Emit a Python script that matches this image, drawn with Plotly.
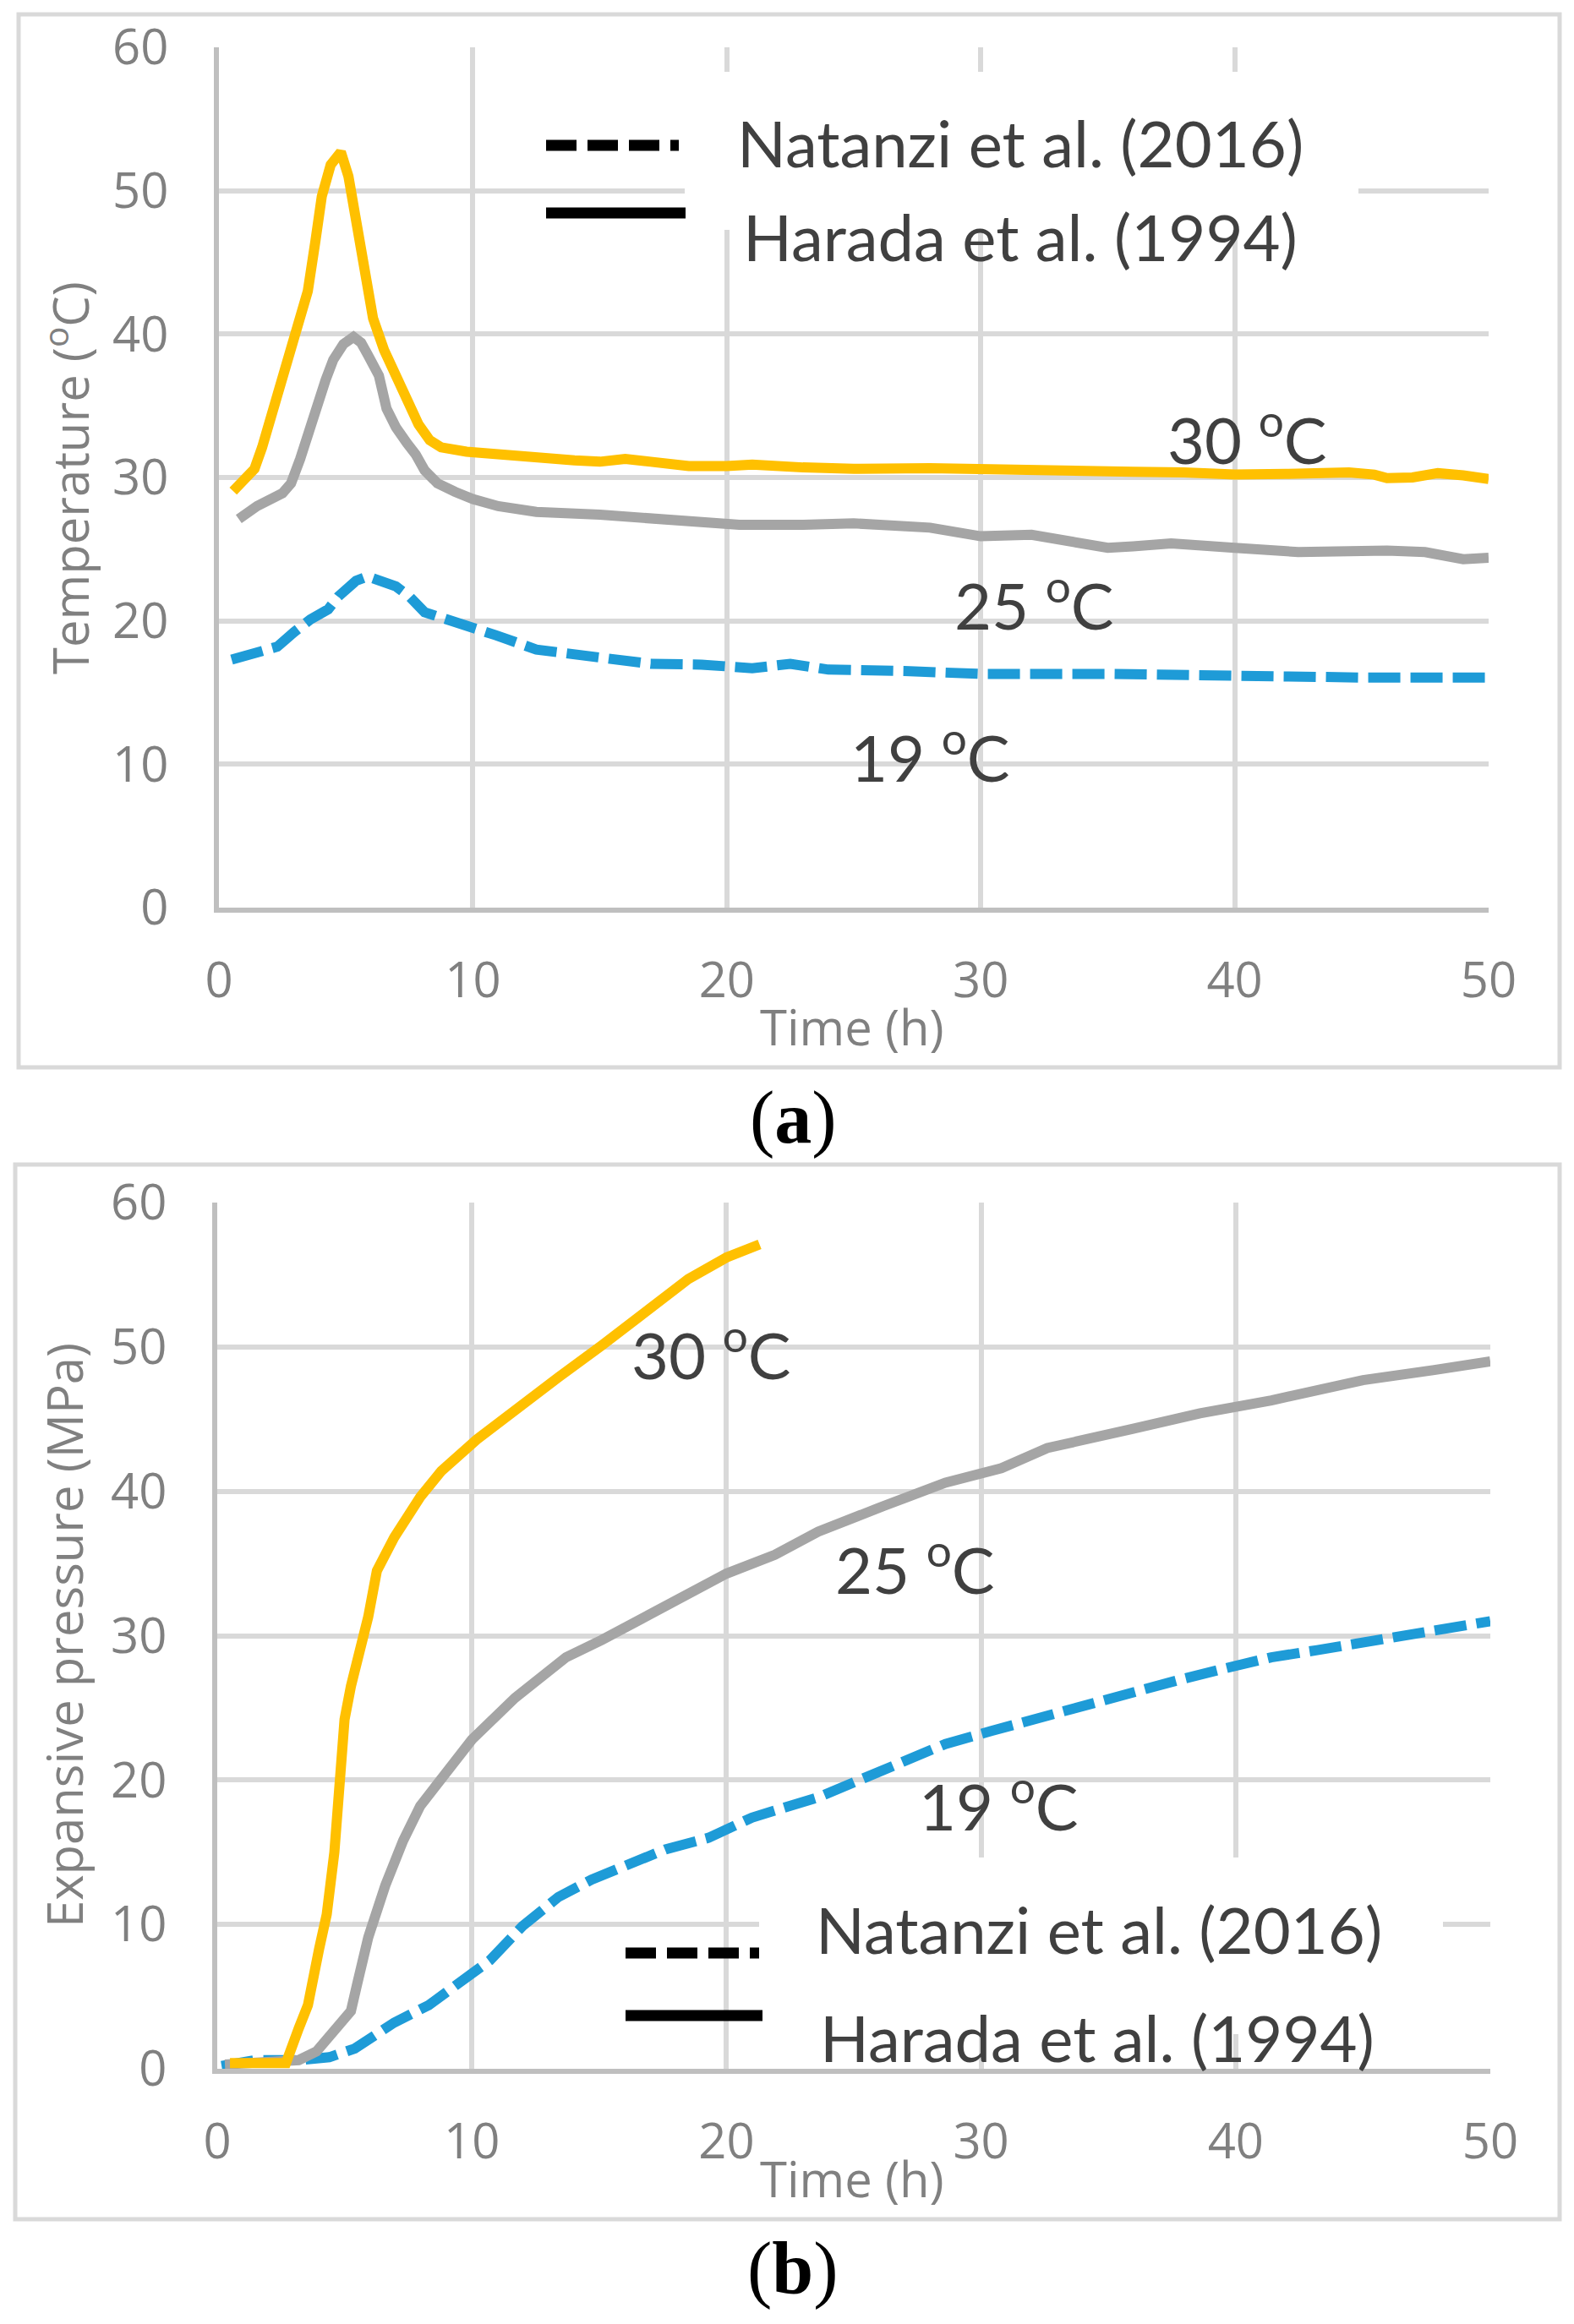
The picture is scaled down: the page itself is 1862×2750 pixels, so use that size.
import plotly.graph_objects as go

# ---- (a) temperature vs time ----
t_a_30 = [0.56, 1.4, 1.7, 2.3, 2.7, 3.1, 3.5, 3.8, 4.05, 4.4, 4.8, 5.1, 5.4, 5.65, 5.85,
          6.07, 6.5, 6.97, 7.5, 7.86, 8.3, 8.75, 9.75, 11, 12, 13, 14, 15, 16, 17, 18.5,
          20, 21, 23, 25, 28, 30, 32, 34, 36, 38, 40, 42, 43, 44.5, 45.5, 46, 47, 48, 49, 50]
temp_30 = [29.05, 30.6, 32.1, 35.7, 38.4, 40.4, 43.0, 46.5, 49.6, 51.8, 52.7, 51.0, 48.0, 45.0, 42.5,
           41.1, 38.9, 37.1, 35.0, 33.7, 32.6, 32.1, 31.8, 31.6, 31.4, 31.3, 31.2, 31.1, 31.3, 31.1, 30.8,
           30.8, 30.9, 30.7, 30.6, 30.65, 30.55, 30.45, 30.4, 30.4, 30.35, 30.2, 30.25, 30.3, 30.35, 30.2, 29.95, 30.0, 30.3, 30.15, 29.9]

t_a_25 = [0.78, 1.5, 2.5, 2.84, 3.2, 3.6, 3.85, 4.2, 4.5, 4.9, 5.3, 5.6, 5.85, 6.3, 6.6, 6.97,
          7.4, 7.75, 8.1, 8.6, 9.3, 10, 11, 12.5, 15, 18, 20.5, 23, 25, 28, 30, 32, 33, 35, 36,
          37.5, 40, 42.5, 46, 47.5, 49, 50]
temp_25 = [27.1, 28.0, 28.9, 29.6, 31.3, 33.5, 35.3, 36.8, 38.2, 39.3, 39.8, 39.4, 38.6, 37.1, 34.8, 33.5,
           32.4, 31.6, 30.5, 29.6, 29.0, 28.5, 28.0, 27.6, 27.4, 27.0, 26.7, 26.7, 26.8, 26.5, 25.9, 26.0, 25.7, 25.1, 25.2,
           25.4, 25.1, 24.8, 24.9, 24.8, 24.3, 24.4]

t_a_19 = [0.5, 0.72, 1.4, 2.3, 2.95, 3.6, 4.3, 4.7, 5.4, 5.85, 6.97, 7.5, 8.1, 9.2, 10.9, 12.5,
          14.2, 15, 17, 19, 21, 22.5, 24, 27, 30, 35, 40, 45, 50]
temp_19 = [17.3, 17.4, 17.85, 18.2, 19.2, 20.1, 20.8, 21.7, 22.8, 23.1, 22.4, 21.7, 20.6, 19.9, 19.0, 18.0,
           17.65, 17.45, 17.0, 16.95, 16.7, 17.0, 16.6, 16.5, 16.3, 16.3, 16.1, 16.05, 16.05]

# ---- (b) expansive pressure vs time ----
t_b_30 = [0.5, 2.7, 3.2, 3.56, 4.0, 4.3, 4.6, 4.83, 5.0, 5.25, 5.7, 5.93, 6.27, 6.95, 7.97, 8.8,
          10.2, 11.7, 13.4, 15.1, 16.8, 18.5, 20, 21.3]
pres_30 = [0.4, 0.4, 2.8, 4.4, 8.3, 10.7, 15.0, 19.8, 24.2, 26.5, 29.3, 31.3, 34.5, 36.8, 39.6, 41.4,
           43.6, 45.7, 47.9, 50.1, 52.5, 54.7, 56.2, 57.1]

t_b_25 = [0.3, 2.0, 3.2, 3.9, 4.9, 5.25, 5.5, 5.93, 6.6, 7.3, 7.97, 9.0, 10, 11.7, 13.7, 15.1,
          16.8, 18.5, 20, 21.9, 23.6, 26.2, 28.6, 30.8, 32.6, 35.9, 38.6, 41.4, 45, 47.8, 50]
pres_25 = [0.3, 0.5, 0.6, 1.2, 3.2, 4.0, 5.9, 9.1, 12.7, 15.8, 18.2, 20.6, 22.8, 25.7, 28.5, 29.7,
           31.3, 32.9, 34.3, 35.6, 37.2, 39.0, 40.6, 41.6, 43.0, 44.3, 45.4, 46.3, 47.7, 48.4, 49.0]

t_b_19 = [0.17, 1.5, 3.2, 4.4, 5.4, 6.95, 8.3, 9.7, 10.7, 12.0, 13.4, 14.7, 16.1, 17.6, 19.3, 21,
          23.6, 25.8, 28.6, 30.4, 32.2, 34.1, 35.9, 37.7, 39.5, 41.4, 43.2, 45, 46.9, 48.7, 50]
pres_19 = [0.2, 0.6, 0.6, 0.8, 1.4, 3.2, 4.4, 6.3, 7.5, 9.9, 11.9, 13.1, 14.1, 15.2, 16.0, 17.4,
           18.8, 20.4, 22.5, 23.4, 24.3, 25.1, 26.0, 26.9, 27.7, 28.5, 29.0, 29.5, 30.0, 30.5, 31.0]

x_ticks = [0, 10, 20, 30, 40, 50]
y_ticks = [0, 10, 20, 30, 40, 50, 60]
legend_names = ["Natanzi et al. (2016)", "Harada et al. (1994)"]
curve_labels = ["30 <sup>o</sup>C", "25 <sup>o</sup>C", "19 <sup>o</sup>C"]

YELLOW = "#FFC000"
GREY = "#A5A5A5"
BLUE = "#1E9BD7"
TEXT = "#404040"
DASH = "38px,12px"

W, H = 1862, 2750


def px(x):
    return x / W


def py(y):
    return 1 - y / H


fig = go.Figure()

# draw order: blue, grey, yellow on top
for xs, ys, col, dash, ax in [
    (t_a_19, temp_19, BLUE, DASH, ("x", "y")),
    (t_a_25, temp_25, GREY, "solid", ("x", "y")),
    (t_a_30, temp_30, YELLOW, "solid", ("x", "y")),
    (t_b_19, pres_19, BLUE, DASH, ("x2", "y2")),
    (t_b_25, pres_25, GREY, "solid", ("x2", "y2")),
    (t_b_30, pres_30, YELLOW, "solid", ("x2", "y2")),
]:
    fig.add_trace(go.Scatter(x=xs, y=ys, mode="lines", xaxis=ax[0], yaxis=ax[1],
                             line=dict(color=col, width=12, dash=dash),
                             showlegend=False, hoverinfo="skip"))

axis_style = dict(showgrid=True, gridcolor="#D9D9D9", gridwidth=6,
                  showline=True, linecolor="#BFBFBF", linewidth=6,
                  zeroline=False, ticks="", automargin=False,
                  tickfont=dict(family="Open Sans", size=58, color="#808080"),
                  fixedrange=True)

fig.update_layout(
    width=W, height=H,
    margin=dict(l=0, r=0, t=0, b=0, pad=0, autoexpand=False),
    paper_bgcolor="white", plot_bgcolor="white",
    showlegend=False,
    xaxis=dict(axis_style, domain=[px(259), px(1761)], range=[0, 50], tickvals=x_ticks,
               anchor="y", ticklabelstandoff=30),
    yaxis=dict(axis_style, domain=[py(1074), py(56)], range=[0, 60], tickvals=y_ticks,
               anchor="x", ticklabelstandoff=42),
    xaxis2=dict(axis_style, domain=[px(257), px(1763)], range=[0, 50], tickvals=x_ticks,
                anchor="y2", ticklabelstandoff=30),
    yaxis2=dict(axis_style, domain=[py(2448), py(1423)], range=[0, 60], tickvals=y_ticks,
                anchor="x2", ticklabelstandoff=42),
)

shapes = [
    # outer frames
    dict(type="rect", xref="paper", yref="paper", x0=px(22), x1=px(1845), y0=py(1263), y1=py(17),
         line=dict(color="#D9D9D9", width=5), layer="below"),
    dict(type="rect", xref="paper", yref="paper", x0=px(18), x1=px(1845), y0=py(2626), y1=py(1378),
         line=dict(color="#D9D9D9", width=5), layer="below"),
    # white legend backgrounds
    dict(type="rect", xref="paper", yref="paper", x0=px(810), x1=px(1607), y0=py(272), y1=py(85),
         fillcolor="white", line=dict(width=0), layer="above"),
    dict(type="rect", xref="paper", yref="paper", x0=px(898), x1=px(1707), y0=py(2407), y1=py(2198),
         fillcolor="white", line=dict(width=0), layer="above"),
    # legend line samples
    dict(type="line", xref="paper", yref="paper", x0=px(646), x1=px(803), y0=py(172), y1=py(172),
         line=dict(color="black", width=13, dash="36px,13px"), layer="above"),
    dict(type="line", xref="paper", yref="paper", x0=px(646), x1=px(811), y0=py(252), y1=py(252),
         line=dict(color="black", width=13), layer="above"),
    dict(type="line", xref="paper", yref="paper", x0=px(740), x1=px(898), y0=py(2311), y1=py(2311),
         line=dict(color="black", width=13, dash="36px,13px"), layer="above"),
    dict(type="line", xref="paper", yref="paper", x0=px(740), x1=px(902), y0=py(2385), y1=py(2385),
         line=dict(color="black", width=13), layer="above"),
]
fig.update_layout(shapes=shapes)

lab_font = dict(family="Lato, Liberation Sans", size=76, color=TEXT)
title_font = dict(family="Open Sans", size=58, color="#808080")
cap_font = dict(family="Liberation Serif", size=88, color="black")

ann = []
# axis titles
ann.append(dict(text="Temperature (<sup>o</sup>C)", x=px(80), y=py(566), textangle=-90, font=title_font))
ann.append(dict(text="Time (h)", x=px(1008), y=py(1214), font=title_font))
ann.append(dict(text="Expansive pressure (MPa)", x=px(75), y=py(1935), textangle=-90, font=title_font))
ann.append(dict(text="Time (h)", x=px(1008), y=py(2577), font=title_font))
# captions
ann.append(dict(text="(<b>a</b>)", x=px(938), y=py(1323), font=cap_font))
ann.append(dict(text="(<b>b</b>)", x=px(938), y=py(2684), font=cap_font))
# legend texts
ann.append(dict(text=legend_names[0], x=px(870), y=py(169), xanchor="left", font=lab_font))
ann.append(dict(text=legend_names[1], x=px(877), y=py(280), xanchor="left", font=lab_font))
ann.append(dict(text=legend_names[0], x=px(963), y=py(2282), xanchor="left", font=lab_font))
ann.append(dict(text=legend_names[1], x=px(968), y=py(2410), xanchor="left", font=lab_font))
for a in ann:
    a.update(xref="paper", yref="paper", showarrow=False, yanchor="middle")
    a.setdefault("xanchor", "center")

# curve labels in data coordinates
label_pos_a = [(40.5, 33.0), (32.1, 21.4), (28.0, 10.8)]
label_pos_b = [(19.4, 49.8), (27.4, 34.9), (30.7, 18.5)]
for txt, (lx, ly) in zip(curve_labels, label_pos_a):
    ann.append(dict(text=txt, x=lx, y=ly, xref="x", yref="y", showarrow=False, font=lab_font))
for txt, (lx, ly) in zip(curve_labels, label_pos_b):
    ann.append(dict(text=txt, x=lx, y=ly, xref="x2", yref="y2", showarrow=False, font=lab_font))

fig.update_layout(annotations=ann)

# drop the default page margin so the figure fills the window exactly
fig.write_html("out.html", config={"displayModeBar": False},
               post_script="document.body.style.margin='0px';")
